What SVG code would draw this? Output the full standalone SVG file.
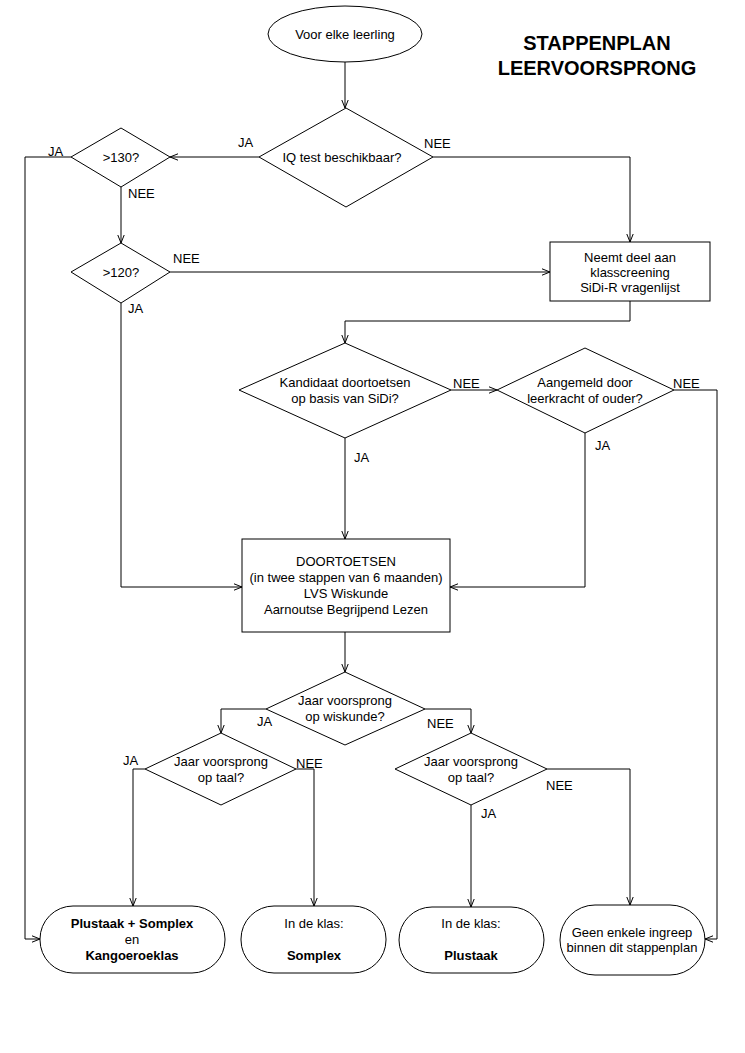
<svg xmlns="http://www.w3.org/2000/svg" width="745" height="1053" viewBox="0 0 745 1053">
<style>
.s{fill:#fff;stroke:#000;stroke-width:1}
.t{font-family:"Liberation Sans",Arial,sans-serif;font-size:13px;fill:#000;text-anchor:middle}
.b{font-weight:bold}
.l{font-family:"Liberation Sans",Arial,sans-serif;font-size:13px;fill:#000}
.c{fill:none;stroke:#000;stroke-width:1}
.title{font-family:"Liberation Sans",Arial,sans-serif;font-size:20px;font-weight:bold;fill:#000;text-anchor:middle}
</style>
<defs>
<marker id="a" viewBox="0 0 10 10" refX="10" refY="5" markerWidth="8" markerHeight="8" markerUnits="userSpaceOnUse" orient="auto">
<path d="M0,1 L10,5 L0,9" fill="none" stroke="#000" stroke-width="1.25"/>
</marker>
</defs>
<rect width="745" height="1053" fill="#fff"/>
<g id="title">
<text class="title" x="597" y="50">STAPPENPLAN</text>
<text class="title" x="597" y="75">LEERVOORSPRONG</text>
</g>
<g id="connectors" class="c" marker-end="url(#a)">
<path class="c" marker-end="url(#a)" d="M345,62 V108"/>
<path class="c" marker-end="url(#a)" d="M259,157 H170"/>
<path class="c" marker-end="url(#a)" d="M433,157 H630 V242"/>
<path class="c" marker-end="url(#a)" d="M71,157 H25 V939 H40"/>
<path class="c" marker-end="url(#a)" d="M121,187 V243"/>
<path class="c" marker-end="url(#a)" d="M170,272 H550"/>
<path class="c" marker-end="url(#a)" d="M121,303 V587 H242"/>
<path class="c" marker-end="url(#a)" d="M630,301 V321 H345 V343"/>
<path class="c" marker-end="url(#a)" d="M451,390 H497"/>
<path class="c" marker-end="url(#a)" d="M345,438 V539"/>
<path class="c" marker-end="url(#a)" d="M674,390 H717 V939 H705"/>
<path class="c" marker-end="url(#a)" d="M585,433 V587 H450"/>
<path class="c" marker-end="url(#a)" d="M345,632 V672"/>
<path class="c" marker-end="url(#a)" d="M266,709 H221 V733"/>
<path class="c" marker-end="url(#a)" d="M425,709 H471 V733"/>
<path class="c" marker-end="url(#a)" d="M145,769 H133 V906"/>
<path class="c" marker-end="url(#a)" d="M296,769 H314 V906"/>
<path class="c" marker-end="url(#a)" d="M471,805 V907"/>
<path class="c" marker-end="url(#a)" d="M547,769 H630 V905"/>
</g>
<g id="labels">
<text class="l" x="238" y="146.5">JA</text>
<text class="l" x="48" y="155.5">JA</text>
<text class="l" x="128" y="197.5">NEE</text>
<text class="l" x="173" y="262.5">NEE</text>
<text class="l" x="128" y="312.5">JA</text>
<text class="l" x="424" y="147.5">NEE</text>
<text class="l" x="453" y="387.5">NEE</text>
<text class="l" x="673" y="387.5">NEE</text>
<text class="l" x="595" y="449.5">JA</text>
<text class="l" x="354" y="461.5">JA</text>
<text class="l" x="257" y="725.5">JA</text>
<text class="l" x="427" y="727.5">NEE</text>
<text class="l" x="123" y="764.5">JA</text>
<text class="l" x="296" y="767.5">NEE</text>
<text class="l" x="546" y="789.5">NEE</text>
<text class="l" x="481" y="817.5">JA</text>
</g>
<g id="start">
<ellipse class="s" cx="345" cy="34" rx="77" ry="28"/>
<text class="t" x="345" y="38.5">Voor elke leerling</text>
</g>
<g id="iq">
<polygon class="s" points="346,108 433,157 346,207 259,157"/>
<text class="t" x="342" y="161.5">IQ test beschikbaar?</text>
</g>
<g id="gt130">
<polygon class="s" points="121,128 170,157 121,187 71,157"/>
<text class="t" x="121" y="161.5">&gt;130?</text>
</g>
<g id="gt120">
<polygon class="s" points="121,243 170,272 121,303 71,272"/>
<text class="t" x="121" y="276.5">&gt;120?</text>
</g>
<g id="sidi">
<rect class="s" x="550" y="242" width="160" height="59"/>
<text class="t" x="630" y="261.5">Neemt deel aan</text>
<text class="t" x="630" y="276.5">klasscreening</text>
<text class="t" x="630" y="291.5">SiDi-R vragenlijst</text>
</g>
<g id="kandidaat">
<polygon class="s" points="345,343 451,390 345,438 239,390"/>
<text class="t" x="345" y="386.5">Kandidaat doortoetsen</text>
<text class="t" x="345" y="402.5">op basis van SiDi?</text>
</g>
<g id="aangemeld">
<polygon class="s" points="585,348 674,390 585,433 497,390"/>
<text class="t" x="585" y="386.5">Aangemeld door</text>
<text class="t" x="585" y="402.5">leerkracht of ouder?</text>
</g>
<g id="doortoetsen">
<rect class="s" x="242" y="539" width="208" height="93"/>
<text class="t" x="346" y="565.5">DOORTOETSEN</text>
<text class="t" x="346" y="582">(in twee stappen van 6 maanden)</text>
<text class="t" x="346" y="597.5">LVS Wiskunde</text>
<text class="t" x="346" y="613.5">Aarnoutse Begrijpend Lezen</text>
</g>
<g id="wiskunde">
<polygon class="s" points="345,672 425,709 345,745 266,709"/>
<text class="t" x="345" y="704.5">Jaar voorsprong</text>
<text class="t" x="345" y="720.5">op wiskunde?</text>
</g>
<g id="taal1">
<polygon class="s" points="221,733 296,769 221,805 145,769"/>
<text class="t" x="221" y="765.5">Jaar voorsprong</text>
<text class="t" x="221" y="781.5">op taal?</text>
</g>
<g id="taal2">
<polygon class="s" points="471,733 547,769 471,805 395,769"/>
<text class="t" x="471" y="765.5">Jaar voorsprong</text>
<text class="t" x="471" y="781.5">op taal?</text>
</g>
<g id="end1">
<rect class="s" x="40" y="906" width="185" height="67" rx="33" ry="33"/>
<text class="t b" x="132" y="927.5">Plustaak + Somplex</text>
<text class="t" x="132" y="943.5">en</text>
<text class="t b" x="132" y="959.5">Kangoeroeklas</text>
</g>
<g id="end2">
<rect class="s" x="241" y="906" width="145" height="67" rx="33" ry="33"/>
<text class="t" x="314" y="927.5">In de klas:</text>
<text class="t b" x="314" y="959.5">Somplex</text>
</g>
<g id="end3">
<rect class="s" x="399" y="907" width="145" height="66" rx="33" ry="33"/>
<text class="t" x="471" y="927.5">In de klas:</text>
<text class="t b" x="471" y="959.5">Plustaak</text>
</g>
<g id="end4">
<rect class="s" x="560" y="905" width="145" height="70" rx="35" ry="35"/>
<text class="t" x="632" y="936.5">Geen enkele ingreep</text>
<text class="t" x="632" y="951.5">binnen dit stappenplan</text>
</g>
</svg>
